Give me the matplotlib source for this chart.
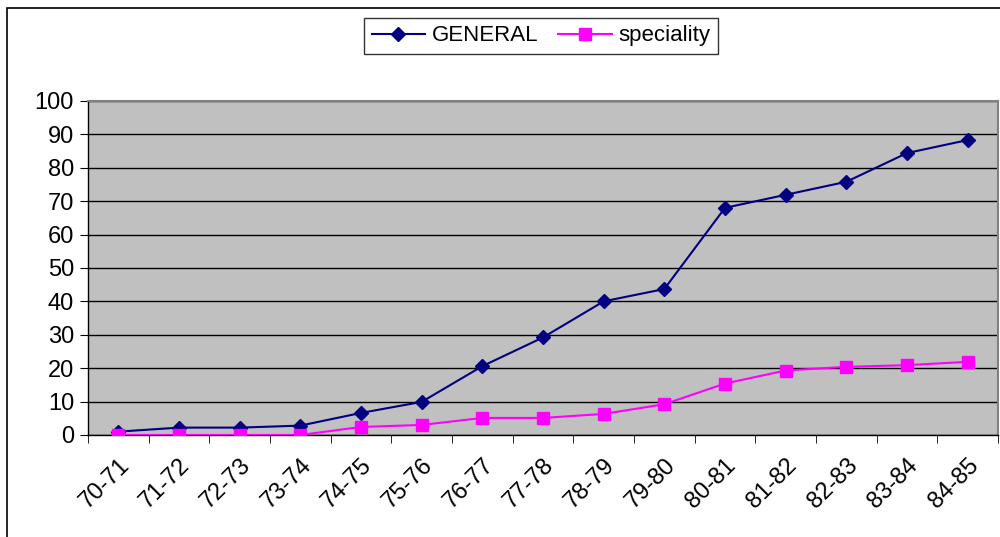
import matplotlib
matplotlib.use("Agg")
import matplotlib.pyplot as plt
from matplotlib.patches import Rectangle

plt.rcParams["font.family"] = ["Liberation Sans", "DejaVu Sans"]

# school years on the x axis
years = ["70-71", "71-72", "72-73", "73-74", "74-75", "75-76", "76-77", "77-78",
         "78-79", "79-80", "80-81", "81-82", "82-83", "83-84", "84-85"]
general = [1.0, 2.2, 2.2, 2.8, 6.6, 9.9, 20.6, 29.2, 40.0, 43.7, 68.0, 71.9, 75.8, 84.4, 88.3]
speciality = [0, 0, 0, 0, 2.4, 3.0, 5.1, 5.1, 6.3, 9.2, 15.4, 19.3, 20.4, 20.9, 21.9]

fig = plt.figure(figsize=(10, 5.37), dpi=100)
ax = fig.add_axes([0.088, 0.19, 0.910, 0.622])
ax.set_facecolor("#C0C0C0")

x = range(len(years))
ax.plot(x, general, color="#000080", lw=1.5, marker="D", ms=7,
        label="GENERAL", zorder=3)
ax.plot(x, speciality, color="#FF00FF", lw=1.5, marker="s", ms=8,
        label="speciality", zorder=3)

ax.set_ylim(0, 100)
ax.set_xlim(-0.5, len(years) - 0.5)
ax.set_yticks(range(0, 101, 10))
ax.yaxis.grid(True, color="black", lw=1)
ax.set_axisbelow(True)

ax.set_xticks(list(x))
ax.set_xticklabels(years, rotation=45, ha="right", rotation_mode="anchor")
ax.set_xticks([i - 0.5 for i in range(len(years) + 1)], minor=True)
ax.tick_params(axis="x", which="major", length=0, labelsize=17, pad=14)
ax.tick_params(axis="x", which="minor", length=6, direction="out", color="black")
ax.tick_params(axis="y", length=6, direction="out", labelsize=17, pad=4)

for s in ("top", "right"):
    ax.spines[s].set_color("#808080")
    ax.spines[s].set_linewidth(1.5)
for s in ("left", "bottom"):
    ax.spines[s].set_color("black")
    ax.spines[s].set_linewidth(1)

leg = fig.legend(*ax.get_legend_handles_labels(), loc="center",
                 bbox_to_anchor=(0.541, 0.933), ncol=2, fontsize=16,
                 frameon=True, fancybox=False, edgecolor="black",
                 handlelength=2.4, columnspacing=0.9, handletextpad=0.3,
                 borderpad=0.35, borderaxespad=0)
leg.get_frame().set_linewidth(1)

# outer chart frame (runs off the right and bottom of the picture)
fig.patches.append(Rectangle((0.007, -0.1), 1.2, 1.085, transform=fig.transFigure,
                             fill=False, edgecolor="black", lw=1.2))

fig.savefig("out.png", dpi=100, facecolor="white")
